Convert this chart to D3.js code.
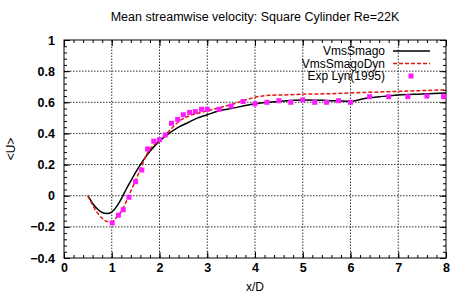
<!DOCTYPE html>
<html>
<head>
<meta charset="utf-8">
<script src="https://cdn.jsdelivr.net/npm/d3@7"></script>
<style>
  body { margin: 0; background: #fff; }
  text { font-family: "Liberation Sans", Arial, sans-serif; }
</style>
</head>
<body>
<div id="chart"></div>
<script>
// chart size
const w = 450;
const h = 293;
const margin = { left: 64, right: 4, top: 40, bottom: 35 };

// VmsSmago (black solid)
const smagoX = [0.5, 0.6, 0.7, 0.8, 0.9, 1.0, 1.1, 1.2, 1.3, 1.4, 1.5, 1.6, 1.7, 1.8, 1.9, 2.0, 2.2, 2.4, 2.6, 2.8, 3.0, 3.25, 3.5, 4.0, 4.5, 5.0, 5.5, 6.0, 6.3, 6.6, 7.0, 7.5, 8.0];
const smagoY = [0, -0.05, -0.085, -0.108, -0.115, -0.105, -0.07, -0.02, 0.04, 0.095, 0.15, 0.2, 0.245, 0.285, 0.32, 0.35, 0.4, 0.44, 0.47, 0.5, 0.52, 0.545, 0.56, 0.59, 0.605, 0.615, 0.612, 0.607, 0.625, 0.635, 0.647, 0.653, 0.66];

// VmsSmagoDyn (red dashed)
const dynX = [0.5, 0.6, 0.7, 0.8, 0.9, 1.0, 1.1, 1.2, 1.3, 1.4, 1.5, 1.6, 1.7, 1.8, 1.9, 2.0, 2.2, 2.4, 2.6, 2.8, 3.0, 3.25, 3.5, 3.75, 4.0, 4.3, 4.7, 5.0, 5.6, 6.0, 6.5, 7.0, 7.5, 8.0];
const dynY = [0, -0.06, -0.11, -0.145, -0.165, -0.167, -0.14, -0.1, -0.04, 0.03, 0.1, 0.17, 0.245, 0.3, 0.33, 0.355, 0.415, 0.475, 0.51, 0.53, 0.545, 0.565, 0.585, 0.61, 0.632, 0.645, 0.648, 0.652, 0.655, 0.66, 0.665, 0.67, 0.675, 0.68];

// Exp Lyn (1995) (magenta squares)
const expX = [1.01, 1.14, 1.24, 1.36, 1.5, 1.63, 1.75, 1.88, 2.0, 2.12, 2.25, 2.38, 2.5, 2.63, 2.75, 2.88, 3.0, 3.25, 3.5, 3.75, 4.0, 4.25, 4.5, 4.75, 5.0, 5.25, 5.5, 5.75, 6.0, 6.4, 6.8, 7.2, 7.6, 7.95];
const expY = [-0.175, -0.125, -0.09, -0.01, 0.09, 0.165, 0.3, 0.35, 0.36, 0.39, 0.465, 0.49, 0.52, 0.535, 0.54, 0.555, 0.555, 0.555, 0.575, 0.605, 0.59, 0.6, 0.61, 0.6, 0.615, 0.6, 0.6, 0.61, 0.6, 0.636, 0.636, 0.636, 0.64, 0.636];

// tick labels
const xTicks = [0, 1, 2, 3, 4, 5, 6, 7, 8];
const yTicks = [-0.4, -0.2, 0, 0.2, 0.4, 0.6, 0.8, 1];
const legendLabels = ['VmsSmago', 'VmsSmagoDyn', 'Exp Lyn(1995)'];

const svg = d3.select('#chart').append('svg')
  .attr('width', w)
  .attr('height', h);

const xScale = d3.scaleLinear()
  .domain([0, 8])
  .range([margin.left, w - margin.right]);
const yScale = d3.scaleLinear()
  .domain([-0.4, 1])
  .range([h - margin.bottom, margin.top]);

const x0 = margin.left, x1 = w - margin.right;
const y0 = h - margin.bottom, y1 = margin.top;

// grid (dotted)
svg.append('g').selectAll('line').data(xTicks.slice(1, -1)).enter().append('line')
  .attr('x1', d => xScale(d)).attr('x2', d => xScale(d))
  .attr('y1', y0).attr('y2', y1)
  .attr('stroke', '#333').attr('stroke-width', 1).attr('stroke-dasharray', '1.5,1.5');
svg.append('g').selectAll('line').data(yTicks.slice(1, -1)).enter().append('line')
  .attr('y1', d => yScale(d)).attr('y2', d => yScale(d))
  .attr('x1', x0).attr('x2', x1)
  .attr('stroke', '#333').attr('stroke-width', 1).attr('stroke-dasharray', '1.5,1.5');

// axes, minor ticks first, then major
const xMinor = d3.range(0, 8.001, 0.2);
const yMinor = d3.range(-0.4, 1.001, 0.04);
svg.append('g').attr('transform', 'translate(0,' + y0 + ')')
  .call(d3.axisBottom(xScale).tickValues(xMinor).tickSizeInner(-3).tickSizeOuter(0).tickFormat(''));
svg.append('g').attr('transform', 'translate(0,' + y1 + ')')
  .call(d3.axisTop(xScale).tickValues(xMinor).tickSizeInner(-3).tickSizeOuter(0).tickFormat(''));
svg.append('g').attr('transform', 'translate(' + x0 + ',0)')
  .call(d3.axisLeft(yScale).tickValues(yMinor).tickSizeInner(-3).tickSizeOuter(0).tickFormat(''));
svg.append('g').attr('transform', 'translate(' + x1 + ',0)')
  .call(d3.axisRight(yScale).tickValues(yMinor).tickSizeInner(-3).tickSizeOuter(0).tickFormat(''));

svg.append('g').attr('transform', 'translate(0,' + y0 + ')')
  .call(d3.axisBottom(xScale).tickValues(xTicks).tickSizeInner(-6).tickSizeOuter(0).tickPadding(5).tickFormat(d3.format('d')));
svg.append('g').attr('transform', 'translate(0,' + y1 + ')')
  .call(d3.axisTop(xScale).tickValues(xTicks).tickSizeInner(-6).tickSizeOuter(0).tickFormat(''));
svg.append('g').attr('transform', 'translate(' + x0 + ',0)')
  .call(d3.axisLeft(yScale).tickValues(yTicks).tickSizeInner(-6).tickSizeOuter(0).tickPadding(9).tickFormat(d => d3.format('')(+d.toFixed(1))));
svg.append('g').attr('transform', 'translate(' + x1 + ',0)')
  .call(d3.axisRight(yScale).tickValues(yTicks).tickSizeInner(-6).tickSizeOuter(0).tickFormat(''));

svg.selectAll('.domain').remove();
svg.selectAll('.tick line').attr('stroke', '#000');
svg.selectAll('.tick text')
  .attr('font-size', 12.5)
  .attr('font-weight', 'bold')
  .attr('fill', '#000');

// frame
svg.append('rect')
  .attr('x', x0).attr('y', y1)
  .attr('width', x1 - x0).attr('height', y0 - y1)
  .attr('fill', 'none').attr('stroke', '#000').attr('stroke-width', 1);

// lines
const line = d3.line().x(d => xScale(d[0])).y(d => yScale(d[1])).curve(d3.curveMonotoneX);
svg.append('path')
  .datum(d3.zip(smagoX, smagoY))
  .attr('d', line)
  .attr('fill', 'none').attr('stroke', '#000').attr('stroke-width', 1.5);
svg.append('path')
  .datum(d3.zip(dynX, dynY))
  .attr('d', line)
  .attr('fill', 'none').attr('stroke', '#e0160f').attr('stroke-width', 1.5)
  .attr('stroke-dasharray', '4,2');

// experiment squares
const sq = 5;
svg.append('g').selectAll('rect').data(d3.zip(expX, expY)).enter().append('rect')
  .attr('x', d => xScale(d[0]) - sq / 2)
  .attr('y', d => yScale(d[1]) - sq / 2)
  .attr('width', sq).attr('height', sq)
  .attr('fill', '#ff1aff');

// legend
const legend = svg.append('g');
const legY = [51, 63.5, 76];
legend.selectAll('text').data(legendLabels).enter().append('text')
  .attr('x', 385).attr('y', (d, i) => legY[i])
  .attr('dy', '0.35em')
  .attr('text-anchor', 'end')
  .attr('font-size', 12)
  .text(d => d);
legend.append('line')
  .attr('x1', 393).attr('x2', 430).attr('y1', legY[0]).attr('y2', legY[0])
  .attr('stroke', '#000').attr('stroke-width', 1.5);
legend.append('line')
  .attr('x1', 393).attr('x2', 430).attr('y1', legY[1]).attr('y2', legY[1])
  .attr('stroke', '#e0160f').attr('stroke-width', 1.5).attr('stroke-dasharray', '4,2');
legend.append('rect')
  .attr('x', 411 - sq / 2).attr('y', legY[2] - sq / 2)
  .attr('width', sq).attr('height', sq)
  .attr('fill', '#ff1aff');

// title and axis labels
svg.append('text')
  .attr('x', (x0 + x1) / 2).attr('y', 21)
  .attr('text-anchor', 'middle')
  .attr('font-size', 12.5)
  .text('Mean streamwise velocity: Square Cylinder Re=22K');
svg.append('text')
  .attr('x', (x0 + x1) / 2).attr('y', 291)
  .attr('text-anchor', 'middle')
  .attr('font-size', 12)
  .text('x/D');
svg.append('text')
  .attr('transform', 'translate(15,' + ((y0 + y1) / 2) + ') rotate(-90)')
  .attr('text-anchor', 'middle')
  .attr('font-size', 12)
  .text('<U>');
</script>
</body>
</html>
